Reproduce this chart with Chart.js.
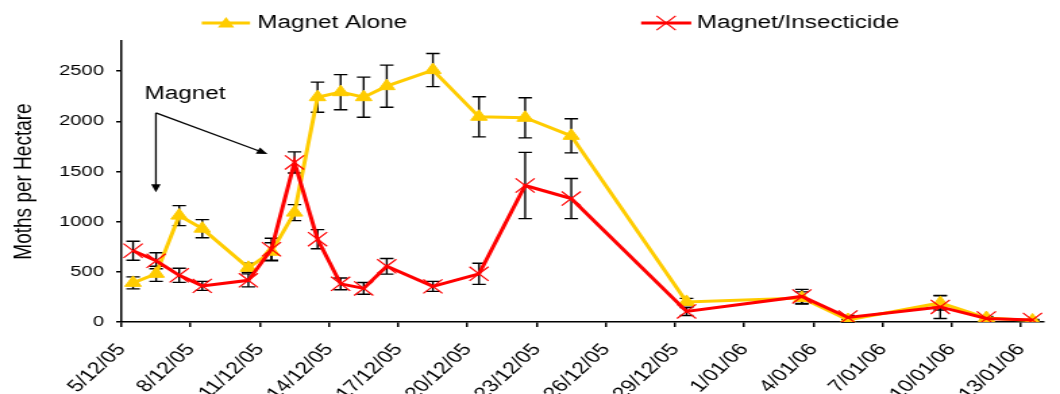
<!DOCTYPE html>
<html>
<head>
<meta charset="utf-8">
<script src="https://cdn.jsdelivr.net/npm/chart.js@4.4.0/dist/chart.umd.min.js"></script>
<style>
  html, body { margin: 0; padding: 0; background: #fff; overflow: hidden; }
  /* the original picture is stretched sideways, so draw narrow and stretch */
  #wrap { width: 785px; height: 394px; transform: scaleX(1.3503); transform-origin: 0 0; }
</style>
</head>
<body>
<div id="wrap"><canvas id="myChart"></canvas></div>
<script>
// sampling dates (d/mm/yy)
const sampleDates = ['5/12/05', '6/12/05', '7/12/05', '8/12/05', '10/12/05', '11/12/05', '12/12/05',
    '13/12/05', '14/12/05', '15/12/05', '16/12/05', '18/12/05', '20/12/05', '22/12/05', '24/12/05',
    '29/12/05', '3/01/06', '5/01/06', '9/01/06', '11/01/06', '13/01/06'];

const tickLabels = ['5/12/05', '8/12/05', '11/12/05', '14/12/05', '17/12/05', '20/12/05', '23/12/05',
    '26/12/05', '29/12/05', '1/01/06', '4/01/06', '7/01/06', '10/01/06', '13/01/06'];
const yTicks = [0, 500, 1000, 1500, 2000, 2500];

const magnetAlone = [390, 480, 1060, 930, 540, 700, 1090, 2240, 2290, 2240, 2350, 2510, 2045, 2035, 1855,
    200, 240, 20, 190, 40, 15];
const magnetAloneErr = [60, 75, 100, 90, 45, 90, 80, 150, 175, 200, 210, 165, 200, 200, 170,
    35, 60, 30, 70, 15, 5];

const magnetInsecticide = [710, 610, 465, 360, 415, 725, 1590, 825, 380, 335, 555, 355, 480, 1360, 1230,
    105, 255, 45, 150, 35, 20];
const magnetInsecticideErr = [95, 80, 70, 45, 65, 110, 105, 95, 58, 58, 78, 50, 105, 330, 200,
    40, 70, 20, 115, 15, 5];

const FONT = "'Liberation Sans', Arial, Helvetica, sans-serif";
const YELLOW = '#FFCC00';
const RED = '#FF0000';

// days since 5/12/05
function dayIndex(str) {
    let p = str.split('/');
    let d = new Date(2000 + parseInt(p[2]), parseInt(p[1]) - 1, parseInt(p[0]));
    let start = new Date(2005, 11, 5);
    return Math.round((d - start) / 86400000);
}

// excel puts each point in the middle of its day
function toPoints(values) {
    return values.map((v, i) => ({ x: dayIndex(sampleDates[i]) + 0.5, y: v }));
}

function drawTriangle(ctx, x, y, r) {
    ctx.beginPath();
    ctx.moveTo(x, y - r);
    ctx.lineTo(x + Math.sin(Math.PI / 3) * r, y + r / 2);
    ctx.lineTo(x - Math.sin(Math.PI / 3) * r, y + r / 2);
    ctx.closePath();
    ctx.fill();
}

function drawCross(ctx, x, y, r) {
    let d = r * Math.SQRT1_2;
    ctx.beginPath();
    ctx.moveTo(x - d, y - d);
    ctx.lineTo(x + d, y + d);
    ctx.moveTo(x + d, y - d);
    ctx.lineTo(x - d, y + d);
    ctx.stroke();
}

function arrow(ctx, x1, y1, x2, y2) {
    let a = Math.atan2(y2 - y1, x2 - x1);
    let len = 8, w = 3.5;
    ctx.beginPath();
    ctx.moveTo(x1, y1);
    ctx.lineTo(x2 - Math.cos(a) * len * 0.8, y2 - Math.sin(a) * len * 0.8);
    ctx.stroke();
    ctx.beginPath();
    ctx.moveTo(x2, y2);
    ctx.lineTo(x2 - Math.cos(a) * len + Math.sin(a) * w, y2 - Math.sin(a) * len - Math.cos(a) * w);
    ctx.lineTo(x2 - Math.cos(a) * len - Math.sin(a) * w, y2 - Math.sin(a) * len + Math.cos(a) * w);
    ctx.closePath();
    ctx.fill();
}

const errorBars = {
    id: 'errorBars',
    beforeDatasetsDraw(chart) {
        const ctx = chart.ctx;
        const y = chart.scales.y;
        const errs = [magnetAloneErr, magnetInsecticideErr];
        ctx.save();
        ctx.strokeStyle = '#000';
        ctx.lineWidth = 1.4;
        chart.data.datasets.forEach((ds, i) => {
            chart.getDatasetMeta(i).data.forEach((pt, j) => {
                let v = ds.data[j].y;
                let top = y.getPixelForValue(v + errs[i][j]);
                let bot = y.getPixelForValue(Math.max(v - errs[i][j], 0));
                ctx.beginPath();
                ctx.moveTo(pt.x, top);
                ctx.lineTo(pt.x, bot);
                ctx.moveTo(pt.x - 5, top);
                ctx.lineTo(pt.x + 5, top);
                ctx.moveTo(pt.x - 5, bot);
                ctx.lineTo(pt.x + 5, bot);
                ctx.stroke();
            });
        });
        ctx.restore();
    }
};

const extras = {
    id: 'extras',
    afterDraw(chart) {
        const ctx = chart.ctx;
        const x = chart.scales.x, y = chart.scales.y;
        ctx.save();

        // legend
        ctx.font = '18px ' + FONT;
        ctx.textBaseline = 'middle';
        ctx.fillStyle = '#000';
        ctx.fillText('Magnet Alone', 190.4, 23);
        ctx.fillText('Magnet/Insecticide', 516, 23);

        ctx.lineWidth = 3;
        ctx.strokeStyle = YELLOW;
        ctx.beginPath(); ctx.moveTo(149.4, 23); ctx.lineTo(185.2, 23); ctx.stroke();
        ctx.fillStyle = YELLOW;
        drawTriangle(ctx, 167.4, 24, 7);

        ctx.strokeStyle = RED;
        ctx.beginPath(); ctx.moveTo(474.8, 23); ctx.lineTo(511.9, 23); ctx.stroke();
        ctx.lineWidth = 1.2;
        drawCross(ctx, 493.3, 23, 10);

        // "Magnet" note with arrows
        ctx.fillStyle = '#000';
        ctx.strokeStyle = '#000';
        ctx.lineWidth = 1.3;
        ctx.font = '18px ' + FONT;
        ctx.textBaseline = 'middle';
        ctx.fillText('Magnet', x.getPixelForValue(1.0), y.getPixelForValue(2270));
        let ox = x.getPixelForValue(1.49), oy = y.getPixelForValue(2084);
        arrow(ctx, ox, oy, ox, y.getPixelForValue(1293));
        arrow(ctx, ox, oy, x.getPixelForValue(6.33), y.getPixelForValue(1673));

        ctx.restore();
    }
};

const ctx = document.getElementById('myChart').getContext('2d');
const myChart = new Chart(ctx, {
    type: 'line',
    data: {
        datasets: [{
            label: 'Magnet Alone',
            data: toPoints(magnetAlone),
            borderColor: YELLOW,
            backgroundColor: YELLOW,
            borderWidth: 3,
            pointStyle: 'triangle',
            pointRadius: 7,
            pointBorderWidth: 1,
            pointBackgroundColor: YELLOW,
            pointBorderColor: YELLOW,
            order: 1
        }, {
            label: 'Magnet/Insecticide',
            data: toPoints(magnetInsecticide),
            borderColor: RED,
            backgroundColor: RED,
            borderWidth: 3,
            pointStyle: 'crossRot',
            pointRadius: 10,
            pointBorderWidth: 1.2,
            pointBorderColor: RED,
            order: 0
        }]
    },
    options: {
        responsive: true,
        maintainAspectRatio: false,
        animation: false,
        devicePixelRatio: 1,
        layout: { padding: { top: 41, right: 1, left: 0, bottom: 0 } },
        plugins: {
            legend: { display: false },
            tooltip: { enabled: false }
        },
        scales: {
            x: {
                type: 'linear',
                min: 0,
                max: 40,
                grid: { drawOnChartArea: false, drawTicks: true, tickLength: 5, color: '#000', lineWidth: 1.5 },
                border: { color: '#000', width: 1.5 },
                afterBuildTicks: scale => {
                    scale.ticks = tickLabels.map((t, i) => ({ value: i * 3 }));
                },
                ticks: {
                    autoSkip: false,
                    minRotation: 50,
                    maxRotation: 50,
                    padding: 13,
                    color: '#000',
                    font: { family: FONT, size: 17 },
                    callback: value => tickLabels[Math.round(value / 3)]
                },
                afterFit: scale => { scale.height = 72; }
            },
            y: {
                min: 0,
                max: 2800,
                grid: { drawOnChartArea: false, drawTicks: true, tickLength: 4, color: '#000', lineWidth: 1.5 },
                border: { color: '#000', width: 1.5 },
                afterBuildTicks: scale => {
                    scale.ticks = yTicks.map(v => ({ value: v }));
                },
                ticks: {
                    padding: 9,
                    color: '#000',
                    font: { family: FONT, size: 15 },
                    callback: value => String(value)
                },
                title: {
                    display: true,
                    text: 'Moths per Hectare',
                    color: '#000',
                    font: { family: FONT, size: 19 },
                    padding: { top: 6, bottom: 0 }
                },
                afterFit: scale => { scale.width = 90; }
            }
        }
    },
    plugins: [errorBars, extras]
});
</script>
</body>
</html>
